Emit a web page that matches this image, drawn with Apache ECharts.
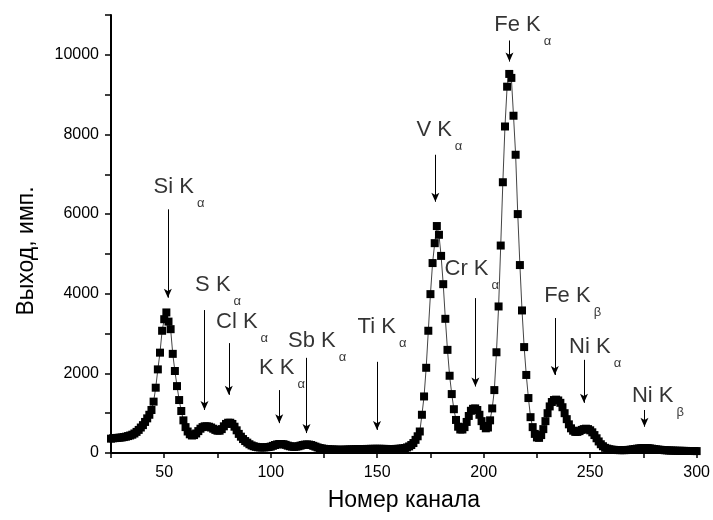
<!DOCTYPE html>
<html>
<head>
<meta charset="utf-8">
<script src="https://cdn.jsdelivr.net/npm/echarts@6/dist/echarts.min.js"></script>
<style>html,body{margin:0;padding:0;background:#fff}#chart{width:713px;height:520px}</style>
</head>
<body>
<div id="chart"></div>
<script>
// Spectrum: counts per channel, starting at channel 25
const firstChannel = 25;
const counts = [
  360, 370, 375, 380, 385, 390, 400, 410, 425, 440,
  460, 490, 530, 580, 640, 700, 780, 870, 960, 1080,
  1290, 1640, 2100, 2520, 3070, 3360, 3530, 3300, 3110, 2490,
  2060, 1680, 1330, 1055, 820, 650, 540, 470, 440, 450,
  490, 550, 610, 650, 670, 670, 660, 640, 610, 580,
  560, 560, 600, 670, 730, 760, 760, 730, 660, 570,
  480, 410, 350, 300, 260, 220, 190, 170, 155, 145,
  140, 140, 140, 145, 150, 160, 180, 200, 215, 225,
  225, 220, 205, 185, 170, 160, 155, 160, 170, 185,
  200, 210, 215, 210, 200, 180, 160, 140, 125, 115,
  105, 100, 95, 90, 88, 85, 84, 82, 80, 82,
  85, 86, 88, 90, 92, 94, 96, 98, 100, 100,
  102, 102, 104, 104, 105, 105, 105, 104, 103, 102,
  101, 100, 100, 101, 103, 106, 110, 116, 126, 140,
  165, 200, 250, 330, 420, 540, 960, 1420, 2140, 3070,
  3990, 4770, 5270, 5700, 5480, 4950, 4240, 3370, 2590, 1940,
  1480, 1100, 830, 660, 590, 590, 650, 780, 930, 1060,
  1110, 1120, 1080, 960, 800, 680, 620, 640, 820, 1120,
  1580, 2530, 3680, 5210, 6800, 8200, 9200, 9520, 9420, 8470,
  7490, 6000, 4720, 3580, 2660, 1960, 1380, 900, 650, 480,
  390, 380, 450, 600, 800, 1000, 1170, 1280, 1330, 1340,
  1320, 1260, 1150, 1000, 850, 720, 620, 560, 530, 530,
  550, 580, 600, 610, 600, 570, 520, 450, 370, 290,
  220, 170, 130, 110, 95, 85, 80, 76, 74, 72,
  72, 72, 74, 78, 84, 92, 100, 108, 115, 120,
  124, 125, 122, 116, 108, 100, 92, 85, 80, 76,
  70, 67, 64, 62, 60, 58, 56, 55, 54, 53,
  52, 51, 50, 50, 49, 48
];

// Peak annotations
const peakNames   = ['Si K', 'S K', 'Cl K', 'K K', 'Sb K', 'Ti K', 'V K', 'Fe K', 'Cr K', 'Fe K', 'Ni K', 'Ni K'];
const peakSubs    = ['α', 'α', 'α', 'α', 'α', 'α', 'α', 'α', 'α', 'β', 'α', 'β'];
const arrowChannel = [51.7, 68.9, 80.3, 104.0, 116.8, 149.9, 177.3, 212.1, 196.1, 233.4, 247.1, 275.5];
const arrowTop     = [6120, 3590, 2760, 1580, 2390, 2290, 7490, 10360, 3890, 3390, 2340, 1080];
const arrowBottom  = [3900, 1080, 1460, 750, 500, 580, 6310, 9830, 1670, 1960, 1260, 660];
const labelChannel = [45.0, 64.5, 74.3, 94.5, 108.1, 140.8, 168.4, 205.0, 181.6, 228.4, 240.1, 269.6];
const labelValue   = [6970, 4490, 3580, 2410, 3080, 3440, 8380, 11020, 4900, 4230, 2940, 1720];

// x ticks / y ticks
const xMin = 25, xMax = 300, xStep = 25, xLabelStep = 50;
const yMin = 0, yMax = 11000, yStep = 1000, yLabelStep = 2000;

const seriesData = counts.map((v, i) => [firstChannel + i, v]);
const arrows = arrowChannel.map((c, i) => [{coord: [c, arrowTop[i]]}, {coord: [c, arrowBottom[i]]}]);
const labels = labelChannel.map((c, i) => [c, labelValue[i], peakNames[i], peakSubs[i]]);

const FONT = 'Liberation Sans, Arial, sans-serif';
const chart = echarts.init(document.getElementById('chart'));
chart.setOption({
  animation: false,
  backgroundColor: '#fff',
  grid: {left: 111, right: 15, top: 15, bottom: 67},
  xAxis: {
    type: 'value', min: xMin, max: xMax, interval: xStep,
    name: 'Номер канала', nameLocation: 'middle', nameGap: 36,
    nameTextStyle: {fontFamily: FONT, fontSize: 23, color: '#000'},
    axisLine: {lineStyle: {color: '#000', width: 2}},
    axisTick: {length: 5, lineStyle: {color: '#000', width: 1.5}},
    axisLabel: {fontFamily: FONT, fontSize: 16, color: '#000', margin: 12,
      formatter: v => (v % xLabelStep === 0 ? String(v) : '')},
    splitLine: {show: false}
  },
  yAxis: {
    type: 'value', min: yMin, max: yMax, interval: yStep,
    name: 'Выход, имп.', nameLocation: 'middle', nameGap: 73,
    nameTextStyle: {fontFamily: FONT, fontSize: 23, color: '#000', padding: [0, 34, 0, 0]},
    axisLine: {show: true, lineStyle: {color: '#000', width: 2}},
    axisTick: {show: true, length: 6, lineStyle: {color: '#000', width: 1.5}},
    axisLabel: {fontFamily: FONT, fontSize: 16, color: '#000', margin: 12,
      formatter: v => (v % yLabelStep === 0 && v < yMax ? String(v) : '')},
    splitLine: {show: false}
  },
  series: [
    {
      type: 'line',
      data: seriesData,
      symbol: 'rect',
      symbolSize: 8,
      showAllSymbol: true,
      itemStyle: {color: '#000'},
      lineStyle: {color: '#444', width: 1},
      markLine: {
        silent: true,
        symbol: ['none', 'arrow'],
        symbolSize: [6, 9],
        label: {show: false},
        lineStyle: {color: '#000', width: 1, type: 'solid'},
        data: arrows
      },
      z: 2
    },
    {
      type: 'scatter',
      data: labels,
      symbolSize: 0,
      clip: false,
      silent: true,
      label: {
        show: true,
        position: [0, 0],
        align: 'left',
        verticalAlign: 'top',
        formatter: p => '{m|' + p.data[2] + '}{s|' + p.data[3] + '}',
        rich: {
          m: {fontFamily: FONT, fontSize: 22, color: '#000', lineHeight: 26, verticalAlign: 'top'},
          s: {fontFamily: FONT, fontSize: 13, color: '#000', lineHeight: 14, verticalAlign: 'top', padding: [21, 0, 0, 3]}
        }
      },
      z: 3
    }
  ]
});
</script>
</body>
</html>
